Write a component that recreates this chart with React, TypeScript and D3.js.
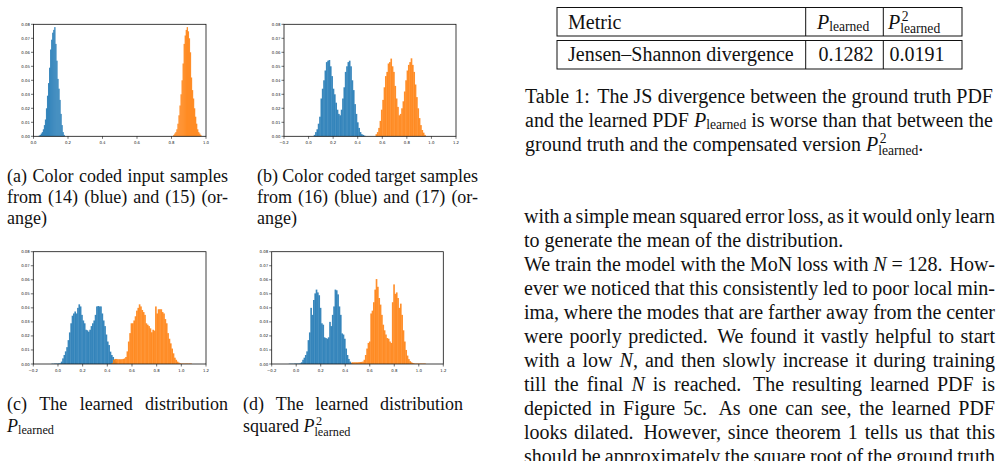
import React from 'react';
import * as d3 from 'd3';

// ---------- histogram data (bin heights as fraction of samples) ----------
const yTicks = [0, 0.01, 0.02, 0.03, 0.04, 0.05, 0.06, 0.07, 0.08];
const xTicksUnit = [0, 0.2, 0.4, 0.6, 0.8, 1.0];
const xTicksWide = [-0.2, 0, 0.2, 0.4, 0.6, 0.8, 1.0, 1.2];

// (a) input samples
const inputBinWidth = 0.006;
const inputBlueStart = 0.03;
const inputBlue = [0.0005, 0.001, 0.002, 0.003, 0.005, 0.008, 0.012, 0.02, 0.029, 0.038, 0.049, 0.062, 0.069, 0.074, 0.076, 0.078, 0.066, 0.054, 0.041, 0.034, 0.026, 0.016, 0.008, 0.003, 0.001];
const inputOrangeStart = 0.81;
const inputOrange = [0.001, 0.002, 0.003, 0.005, 0.009, 0.015, 0.022, 0.03, 0.04, 0.052, 0.066, 0.072, 0.076, 0.078, 0.075, 0.07, 0.06, 0.042, 0.033, 0.027, 0.02, 0.014, 0.009, 0.005, 0.003, 0.002, 0.001];

// (b)-(d) share one bin width
const binWidth = 0.011;

// (b) target samples
const targetBlueStart = 0.042;
const targetBlue = [0.001, 0.003, 0.005, 0.009, 0.014, 0.027, 0.034, 0.04, 0.047, 0.053, 0.054, 0.0545, 0.05, 0.043, 0.034, 0.03, 0.024, 0.019, 0.016, 0.015, 0.019, 0.027, 0.035, 0.046, 0.05, 0.053, 0.054, 0.05, 0.04, 0.033, 0.023, 0.016, 0.01, 0.006, 0.003, 0.0015, 0.001, 0.0005];
const targetOrangeStart = 0.545;
const targetOrange = [0.0015, 0.003, 0.006, 0.011, 0.019, 0.026, 0.035, 0.043, 0.046, 0.052, 0.053, 0.0555, 0.05, 0.046, 0.036, 0.027, 0.021, 0.015, 0.016, 0.02, 0.025, 0.032, 0.04, 0.047, 0.051, 0.053, 0.0557, 0.051, 0.046, 0.037, 0.028, 0.02, 0.013, 0.008, 0.0045, 0.0026, 0.001];

// (c) learned distribution
const learnedBlueStart = -0.054;
const learnedBlue = [0.0002, 0.0002, 0.0003, 0.0003, 0.0003, 0.0004, 0.0005, 0.0017, 0.004, 0.0064, 0.009, 0.012, 0.017, 0.0225, 0.029, 0.0344, 0.036, 0.0374, 0.036, 0.04, 0.0425, 0.041, 0.035, 0.031, 0.029, 0.0244, 0.024, 0.023, 0.0244, 0.027, 0.029, 0.031, 0.035, 0.041, 0.0413, 0.041, 0.041, 0.036, 0.031, 0.027, 0.021, 0.016, 0.0135, 0.0088, 0.0064, 0.005, 0.003, 0.0017];
const learnedOrangeStart = 0.435;
const learnedOrange = [0.0007, 0.003, 0.0036, 0.0036, 0.0034, 0.0034, 0.0034, 0.0034, 0.0036, 0.004, 0.005, 0.009, 0.016, 0.022, 0.029, 0.029, 0.031, 0.034, 0.038, 0.04, 0.0425, 0.041, 0.0385, 0.037, 0.035, 0.029, 0.028, 0.027, 0.0254, 0.0226, 0.0244, 0.0238, 0.041, 0.036, 0.039, 0.039, 0.039, 0.037, 0.036, 0.032, 0.029, 0.022, 0.018, 0.0147, 0.011, 0.0076, 0.0045, 0.003, 0.0017, 0.001, 0.0005, 0.0003, 0.0003, 0.0003, 0.0003, 0.0003, 0.0003, 0.0003, 0.0003];

// (d) learned distribution squared
const squaredBlueStart = -0.061;
const squaredBlue = [0.0002, 0.0002, 0.0002, 0.0002, 0.0003, 0.0003, 0.0003, 0.0003, 0.0005, 0.0012, 0.003, 0.0045, 0.0064, 0.009, 0.017, 0.0225, 0.04, 0.035, 0.0456, 0.0503, 0.053, 0.051, 0.049, 0.04, 0.029, 0.028, 0.019, 0.0185, 0.018, 0.019, 0.03, 0.027, 0.035, 0.041, 0.053, 0.0525, 0.0496, 0.041, 0.035, 0.0218, 0.021, 0.018, 0.011, 0.0064, 0.0036, 0.0017, 0.0007];
const squaredOrangeStart = 0.4505;
const squaredOrange = [0.0012, 0.0012, 0.0012, 0.0012, 0.0012, 0.0013, 0.0014, 0.0015, 0.0017, 0.003, 0.0064, 0.011, 0.015, 0.016, 0.036, 0.038, 0.044, 0.053, 0.0605, 0.055, 0.047, 0.0423, 0.035, 0.028, 0.024, 0.021, 0.0185, 0.018, 0.016, 0.015, 0.044, 0.0567, 0.05, 0.051, 0.047, 0.04, 0.043, 0.035, 0.024, 0.016, 0.01, 0.006, 0.0035, 0.002, 0.0012, 0.0007, 0.0004, 0.0003, 0.0003, 0.0003, 0.0003, 0.0003, 0.0003, 0.0003, 0.0003];

// Jensen–Shannon divergences
const jsLabels = ['Jensen–Shannon divergence'];
const jsValues = [0.1282, 0.0191];

// ---------- layout ----------
const BLUE = '#1f77b4';
const ORANGE = '#ff7f0e';
const SERIF = '"Liberation Serif", "Times New Roman", serif';
const SANS = '"DejaVu Sans", sans-serif';

type Series = { start: number; width: number; values: number[] };
type Panel = {
  key: string; left: number; right: number; top: number; bottom: number;
  domain: [number, number]; xTicks: number[]; blue: Series; orange: Series;
};

const panels: Panel[] = [
  { key: 'a', left: 33.5, right: 206, top: 24.3, bottom: 136.3, domain: [0, 1], xTicks: xTicksUnit,
    blue: { start: inputBlueStart, width: inputBinWidth, values: inputBlue },
    orange: { start: inputOrangeStart, width: inputBinWidth, values: inputOrange } },
  { key: 'b', left: 284, right: 456, top: 24.3, bottom: 136.3, domain: [-0.2, 1.2], xTicks: xTicksWide,
    blue: { start: targetBlueStart, width: binWidth, values: targetBlue },
    orange: { start: targetOrangeStart, width: binWidth, values: targetOrange } },
  { key: 'c', left: 33.3, right: 206, top: 251.7, bottom: 364, domain: [-0.2, 1.2], xTicks: xTicksWide,
    blue: { start: learnedBlueStart, width: binWidth, values: learnedBlue },
    orange: { start: learnedOrangeStart, width: binWidth, values: learnedOrange } },
  { key: 'd', left: 271.7, right: 443.3, top: 251.7, bottom: 364, domain: [-0.2, 1.2], xTicks: xTicksWide,
    blue: { start: squaredBlueStart, width: binWidth, values: squaredBlue },
    orange: { start: squaredOrangeStart, width: binWidth, values: squaredOrange } },
];

function Histogram({ p }: { p: Panel }) {
  const x = d3.scaleLinear().domain(p.domain).range([p.left, p.right]);
  const y = d3.scaleLinear().domain([0, 0.08]).range([p.bottom, p.top]);
  const fx = d3.format('.1f');
  const fy = d3.format('.2f');
  // bars overlap slightly so adjacent bins leave faint darker seams
  const bars = (s: Series, color: string) =>
    s.values.map((v, i) => {
      const a = x(s.start + i * s.width);
      const b = x(s.start + (i + 1) * s.width);
      return <rect key={i} x={a} y={y(v)} width={b - a + 0.3} height={y(0) - y(v)} fill={color} fillOpacity={0.88} />;
    });
  return (
    <g>
      {bars(p.blue, BLUE)}
      {bars(p.orange, ORANGE)}
      <rect x={p.left} y={p.top} width={p.right - p.left} height={p.bottom - p.top} fill="none" stroke="#111" strokeWidth={0.8} />
      {yTicks.map((t) => (
        <g key={'y' + t}>
          <line x1={p.left - 2.5} x2={p.left} y1={y(t)} y2={y(t)} stroke="#111" strokeWidth={0.6} />
          <text x={p.left - 3.5} y={y(t)} textAnchor="end" dominantBaseline="central" fontFamily={SANS} fontSize={3.9} fill="#222">{fy(t)}</text>
        </g>
      ))}
      {p.xTicks.map((t) => (
        <g key={'x' + t}>
          <line x1={x(t)} x2={x(t)} y1={p.bottom} y2={p.bottom + 2.5} stroke="#111" strokeWidth={0.6} />
          <text x={x(t)} y={p.bottom + 6.2} textAnchor="middle" dominantBaseline="central" fontFamily={SANS} fontSize={3.9} fill="#222">{fx(t)}</text>
        </g>
      ))}
    </g>
  );
}

// ---------- text setting ----------
type Run = { t: string; it?: boolean; pos?: 'sub' | 'sub2' | 'sup'; stack?: boolean };
type Word = Run[];
type LineSpec = { x0: number; x1?: number; y: number; size: number; words: Word[] };

let ctx: CanvasRenderingContext2D | null = null;
function measure(t: string, size: number, italic: boolean) {
  if (!ctx) ctx = document.createElement('canvas').getContext('2d');
  if (!ctx) return t.length * size * 0.5;
  ctx.font = `${italic ? 'italic ' : ''}${size}px ${SERIF}`;
  return ctx.measureText(t).width;
}

const T = (s: string): Word[] => s.split(' ').map((t) => [{ t }]);
const PL = (tail = ''): Word => [{ t: 'P', it: true }, { t: 'learned', pos: 'sub' }, ...(tail ? [{ t: tail }] : [])];
const PL2 = (tail = ''): Word => [
  { t: 'P', it: true }, { t: '2', pos: 'sup', stack: true }, { t: 'learned', pos: 'sub2' },
  ...(tail ? [{ t: tail }] : []),
];
const N = (tail = ''): Word => [{ t: 'N', it: true }, ...(tail ? [{ t: tail }] : [])];

function layoutWord(word: Word, size: number) {
  let x = 0;
  let stackW = 0;
  const items: { r: Run; dx: number; dy: number; fs: number }[] = [];
  for (const r of word) {
    const fs = r.pos ? size * 0.68 : size;
    const w = measure(r.t, fs, !!r.it);
    let dx = x;
    let dy = 0;
    if (r.pos === 'sub') dy = 0.13 * size;
    if (r.pos === 'sub2') dy = 0.21 * size;
    if (r.pos === 'sup') { dy = -0.4 * size; dx = x + 0.08 * size; }
    items.push({ r, dx, dy, fs });
    if (r.stack) stackW = w + 0.08 * size;
    else { x += Math.max(w, stackW); stackW = 0; }
  }
  return { items, width: x };
}

function TextLine({ spec }: { spec: LineSpec }) {
  const { x0, x1, y, size, words } = spec;
  const laid = words.map((w) => layoutWord(w, size));
  const total = laid.reduce((s, l) => s + l.width, 0);
  const space = measure(' ', size, false);
  const weights = words.slice(0, -1).map((w) => (/[.:]$/.test(w[w.length - 1].t) ? 1.45 : 1));
  let gaps: number[];
  if (x1 !== undefined && weights.length > 0) {
    const ws = weights.reduce((a, b) => a + b, 0);
    const free = x1 - x0 - total;
    gaps = weights.map((wt) => (free * wt) / ws);
  } else {
    gaps = weights.map((wt) => space * wt);
  }
  let cx = x0;
  const out: React.ReactNode[] = [];
  laid.forEach((l, wi) => {
    l.items.forEach((it, ri) => {
      out.push(
        <text key={wi + '-' + ri} x={cx + it.dx} y={y + it.dy} fontFamily={SERIF} fontSize={it.fs}
          fontStyle={it.r.it ? 'italic' : 'normal'} fill="#111">{it.r.t}</text>
      );
    });
    cx += l.width + (gaps[wi] ?? 0);
  });
  return <g>{out}</g>;
}

const CAP = 18;
const BODY = 20;
const fmt4 = d3.format('.4f');

const lines: LineSpec[] = [
  // subfigure captions
  { x0: 7, x1: 228, y: 182, size: CAP, words: T('(a) Color coded input samples') },
  { x0: 7, x1: 228, y: 203, size: CAP, words: T('from (14) (blue) and (15) (or-') },
  { x0: 7, y: 224, size: CAP, words: T('ange)') },
  { x0: 257, x1: 478, y: 182, size: CAP, words: T('(b) Color coded target samples') },
  { x0: 257, x1: 478, y: 203, size: CAP, words: T('from (16) (blue) and (17) (or-') },
  { x0: 257, y: 224, size: CAP, words: T('ange)') },
  { x0: 7, x1: 228, y: 410, size: CAP, words: T('(c) The learned distribution') },
  { x0: 7, y: 432, size: CAP, words: [PL()] },
  { x0: 243, x1: 463, y: 410, size: CAP, words: T('(d) The learned distribution') },
  { x0: 243, y: 432, size: CAP, words: [...T('squared'), PL2()] },
  // table
  { x0: 568, y: 28.5, size: BODY, words: T('Metric') },
  { x0: 817, y: 28.5, size: BODY, words: [PL()] },
  { x0: 888, y: 28.5, size: BODY, words: [PL2()] },
  { x0: 568, y: 60.5, size: BODY, words: T(jsLabels[0]) },
  { x0: 818.5, y: 60.5, size: BODY, words: T(fmt4(jsValues[0])) },
  { x0: 889.5, y: 60.5, size: BODY, words: T(fmt4(jsValues[1])) },
  // table caption
  { x0: 525, x1: 993, y: 102.5, size: BODY, words: T('Table 1: The JS divergence between the ground truth PDF') },
  { x0: 525, x1: 993, y: 126.5, size: BODY, words: [...T('and the learned PDF'), PL(), ...T('is worse than that between the')] },
  { x0: 525, y: 150.5, size: BODY, words: [...T('ground truth and the compensated version'), PL2('.')] },
  // body text
  { x0: 524, x1: 995, y: 222.5, size: BODY, words: T('with a simple mean squared error loss, as it would only learn') },
  { x0: 524, y: 246.5, size: BODY, words: T('to generate the mean of the distribution.') },
  { x0: 524, x1: 995, y: 270.5, size: BODY, words: [...T('We train the model with the MoN loss with'), N(), ...T('= 128. How-')] },
  { x0: 524, x1: 995, y: 294.5, size: BODY, words: T('ever we noticed that this consistently led to poor local min-') },
  { x0: 524, x1: 995, y: 318.5, size: BODY, words: T('ima, where the modes that are farther away from the center') },
  { x0: 524, x1: 995, y: 342.5, size: BODY, words: T('were poorly predicted. We found it vastly helpful to start') },
  { x0: 524, x1: 995, y: 366.5, size: BODY, words: [...T('with a low'), N(','), ...T('and then slowly increase it during training')] },
  { x0: 524, x1: 995, y: 390.5, size: BODY, words: [...T('till the final'), N(), ...T('is reached. The resulting learned PDF is')] },
  { x0: 524, x1: 995, y: 414.5, size: BODY, words: T('depicted in Figure 5c. As one can see, the learned PDF') },
  { x0: 524, x1: 995, y: 438.5, size: BODY, words: T('looks dilated. However, since theorem 1 tells us that this') },
  { x0: 524, x1: 995, y: 462.5, size: BODY, words: T('should be approximately the square root of the ground truth') },
];

export default function App() {
  return (
    <svg width={1003} height={461} style={{ position: 'absolute', left: 0, top: 0 }}>
      <rect width={1003} height={461} fill="#fff" />
      {panels.map((p) => <Histogram key={p.key} p={p} />)}
      {/* table rules */}
      {[[7.5, 36], [40.5, 69]].map(([t, b], i) => (
        <g key={'tb' + i} stroke="#111" strokeWidth={1} fill="none">
          <rect x={557} y={t} width={405} height={b - t} />
          <line x1={805.7} x2={805.7} y1={t} y2={b} />
          <line x1={883.3} x2={883.3} y1={t} y2={b} />
        </g>
      ))}
      {lines.map((l, i) => <TextLine key={i} spec={l} />)}
    </svg>
  );
}
